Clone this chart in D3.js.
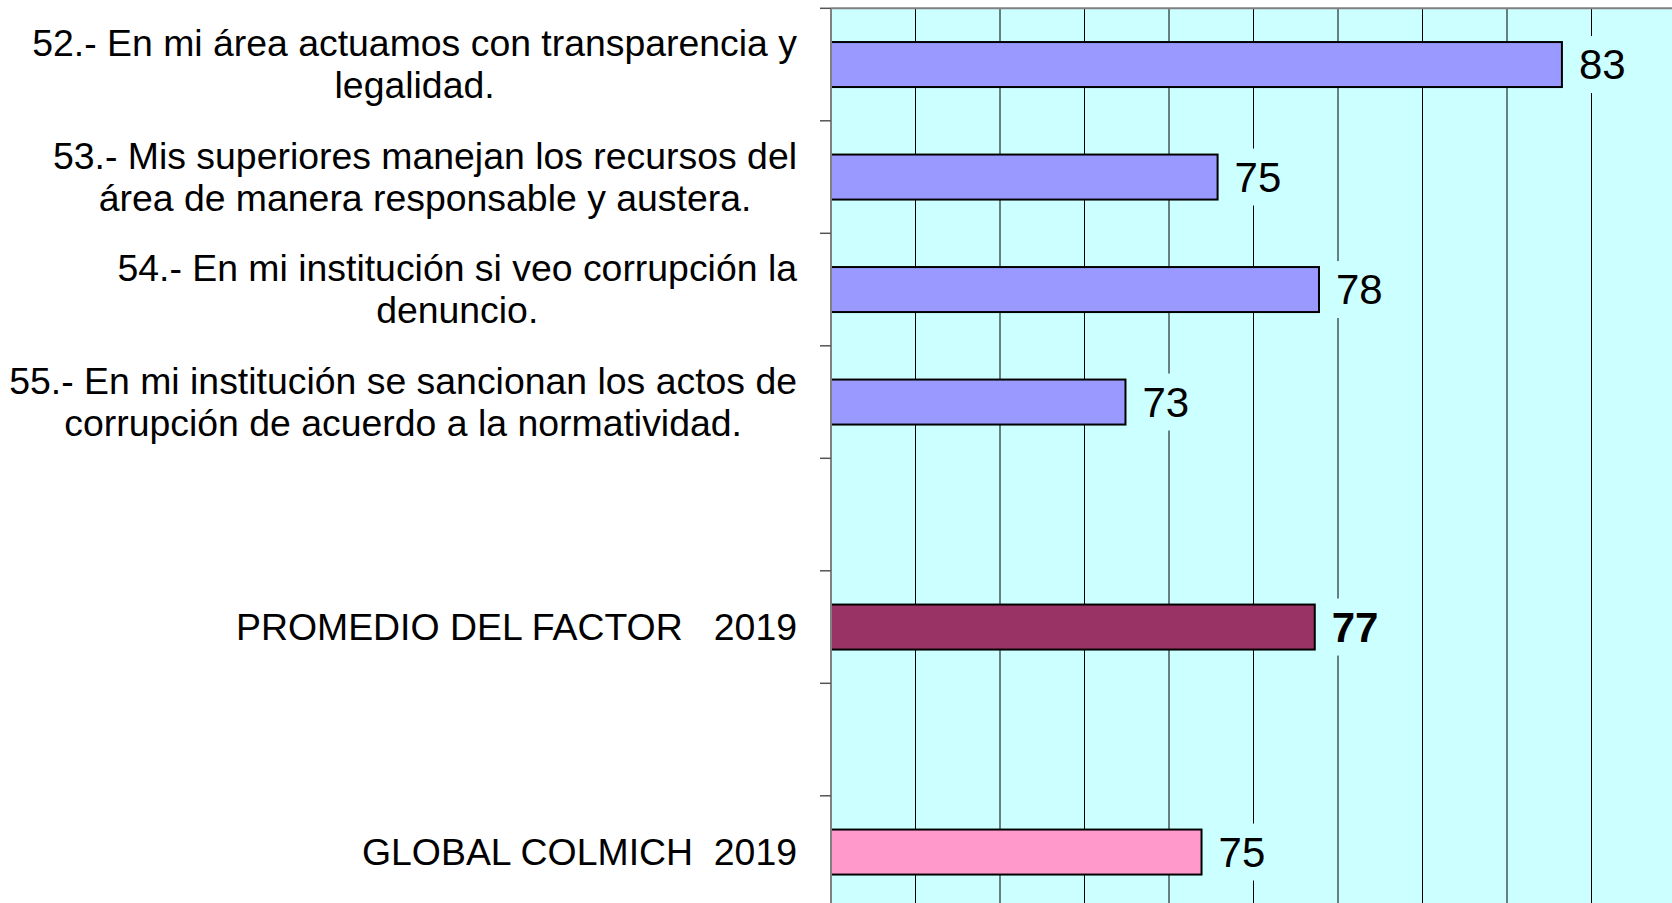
<!DOCTYPE html>
<html>
<head>
<meta charset="utf-8">
<script src="https://cdnjs.cloudflare.com/ajax/libs/d3/7.8.5/d3.min.js"></script>
<style>
  body { margin: 0; background: #fff; }
  text { font-family: Arial, "Liberation Sans", sans-serif; }
</style>
</head>
<body>
<svg width="1672" height="903"></svg>
<script>
// rows of the chart, top to bottom (empty rows are spacers)
var categories = [
  "52.- En mi área actuamos con transparencia y\nlegalidad.",
  "53.- Mis superiores manejan los recursos del\nárea de manera responsable y austera.",
  "54.- En mi institución si veo corrupción la\ndenuncio.",
  "55.- En mi institución se sancionan los actos de\ncorrupción de acuerdo a la normatividad.",
  "",
  "PROMEDIO DEL FACTOR   2019",
  "",
  "GLOBAL COLMICH  2019"
];
var values = [83.3, 75.15, 77.55, 72.97, null, 77.45, null, 74.77];
var barColors = ["#9999FF", "#9999FF", "#9999FF", "#9999FF", null, "#993366", null, "#FF99CC"];
var boldValue = [false, false, false, false, false, true, false, false];
var xDomain = [66, 86];

var svg = d3.select("svg"),
    width = +svg.attr("width"),
    height = +svg.attr("height");

var plotLeft = 831, plotTop = 8.3, plotBottom = 908.3, plotRight = 1676;
var fontSize = 37.4, valueSize = 42, lineHeight = 42;

var x = d3.scaleLinear().domain(xDomain).range([plotLeft, plotRight]);
var y = d3.scaleBand()
    .domain(d3.range(categories.length))
    .range([plotTop, plotBottom])
    .paddingInner(0.6)
    .paddingOuter(0.3);

// plot background
svg.append("rect")
    .attr("x", plotLeft).attr("y", plotTop)
    .attr("width", plotRight - plotLeft).attr("height", plotBottom - plotTop)
    .attr("fill", "#CCFFFF");

// vertical gridlines
svg.selectAll(".grid")
  .data(x.ticks(10).filter(function(t) { return t > xDomain[0]; }))
  .enter().append("line")
    .attr("class", "grid")
    .attr("x1", function(d) { return x(d); })
    .attr("x2", function(d) { return x(d); })
    .attr("y1", plotTop).attr("y2", plotBottom)
    .attr("stroke", function(d, i) { return i % 2 == 0 ? "#000" : "#668080"; })
    .attr("stroke-width", function(d, i) { return i % 2 == 0 ? 1 : 2; });

var rows = values.map(function(v, i) { return {i: i, v: v}; })
    .filter(function(d) { return d.v != null; });

svg.selectAll(".bar")
  .data(rows)
  .enter().append("rect")
    .attr("class", "bar")
    .attr("x", plotLeft)
    .attr("y", function(d) { return y(d.i); })
    .attr("width", function(d) { return x(d.v) - plotLeft; })
    .attr("height", y.bandwidth())
    .attr("fill", function(d) { return barColors[d.i]; })
    .attr("stroke", "#000")
    .attr("stroke-width", 2);

// value labels with a plot-coloured box behind them
var fmt = d3.format(".0f");
var labels = svg.selectAll(".value")
  .data(rows)
  .enter().append("g")
    .attr("class", "value");

labels.append("rect").attr("fill", "#CCFFFF");
labels.append("text")
    .attr("x", function(d) { return x(d.v) + 17; })
    .attr("y", function(d) { return y(d.i) + y.bandwidth() / 2 + valueSize * 0.35; })
    .attr("font-size", valueSize)
    .attr("font-weight", function(d) { return boldValue[d.i] ? "bold" : "normal"; })
    .text(function(d) { return fmt(d.v); });

labels.each(function(d) {
  var g = d3.select(this),
      w = g.select("text").node().getComputedTextLength(),
      cy = y(d.i) + y.bandwidth() / 2;
  g.select("rect")
    .attr("x", x(d.v) + 8)
    .attr("y", cy - 28.5)
    .attr("width", w + 18)
    .attr("height", 57);
});

// axis line, top border and ticks
svg.append("line")
    .attr("x1", plotLeft).attr("x2", plotLeft)
    .attr("y1", plotTop).attr("y2", plotBottom)
    .attr("stroke", "#808080").attr("stroke-width", 2);
svg.append("line")
    .attr("x1", plotLeft).attr("x2", plotRight)
    .attr("y1", plotTop).attr("y2", plotTop)
    .attr("stroke", "#808080").attr("stroke-width", 2);
svg.selectAll(".tick")
  .data(d3.range(categories.length + 1))
  .enter().append("line")
    .attr("class", "tick")
    .attr("x1", plotLeft - 11).attr("x2", plotLeft)
    .attr("y1", function(i) { return plotTop + i * y.step(); })
    .attr("y2", function(i) { return plotTop + i * y.step(); })
    .attr("stroke", "#555").attr("stroke-width", 1.5);

// category labels: block right-aligned to the axis, lines centred inside it
var labelRight = 797;
categories.forEach(function(c, i) {
  if (!c) return;
  var lines = c.split("\n");
  var cy = y(i) + y.bandwidth() / 2;
  var t = svg.append("text")
      .attr("font-size", fontSize)
      .attr("text-anchor", "middle")
      .style("white-space", "pre");
  lines.forEach(function(l, k) {
    t.append("tspan")
      .attr("y", cy + (k - (lines.length - 1) / 2) * lineHeight + fontSize * 0.34)
      .text(l);
  });
  var maxW = d3.max(t.selectAll("tspan").nodes(), function(n) { return n.getComputedTextLength(); });
  t.selectAll("tspan").attr("x", labelRight - maxW / 2);
});
</script>
</body>
</html>
